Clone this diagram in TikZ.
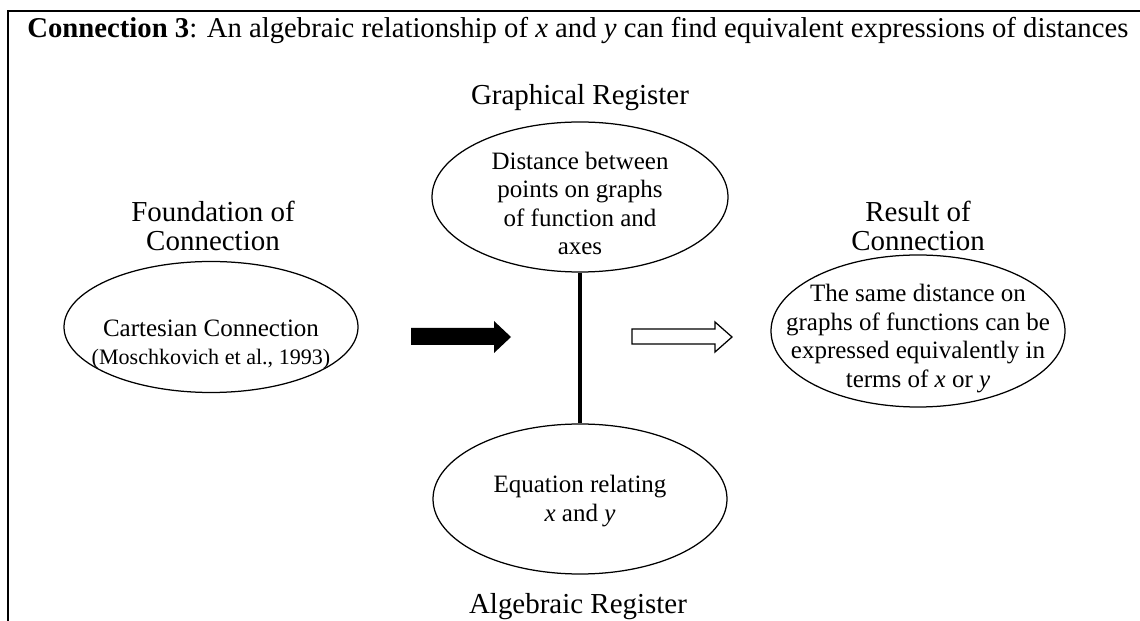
\documentclass[tikz,border=0pt]{standalone}
\usepackage{fontspec}
\setmainfont{Liberation Serif}
\usetikzlibrary{shapes.geometric}
\def\u{0.48pt}
\begin{document}
\begin{tikzpicture}[x=0.48pt,y=-0.48pt,
  lab/.style={anchor=base,inner sep=0pt,font=\fontsize{13.9}{16}\selectfont},
  txt/.style={anchor=base,inner sep=0pt,font=\fontsize{12}{14}\selectfont},
  cite/.style={anchor=base,inner sep=0pt,font=\fontsize{10.6}{12}\selectfont},
  ell/.style={draw,ellipse,inner sep=0pt,line width=0.6pt},
  frame/.style={line width=1pt},
  blockarrow/.style={line width=0.6pt}
]
\useasboundingbox (0,0) rectangle (1140,621);
% frame
\draw[frame] (8,640) -- (8,11) -- (1160,11);
% title
\node[lab,anchor=base west,font=\fontsize{13.78}{16}\selectfont] (title) at (27,38) {\textbf{Connection 3}: An algebraic relationship of \textit{x} and \textit{y} can find equivalent expressions of distances};
% ellipses
\node[ell,minimum width=294*\u,minimum height=131*\u] (found) at (211,327) {};
\node[ell,minimum width=296*\u,minimum height=150*\u] (graph) at (580,197) {};
\node[ell,minimum width=294*\u,minimum height=150*\u] (alg) at (580,499) {};
\node[ell,minimum width=294*\u,minimum height=152*\u] (res) at (918,331) {};
% register labels
\node[lab] (glab) at (580,105) {Graphical Register};
\node[lab] (alab) at (578,613) {Algebraic Register};
\node[lab] (f1) at (213,222) {Foundation of};
\node[lab] (f2) at (213,251) {Connection};
\node[lab] (r1) at (918,222) {Result of};
\node[lab] (r2) at (918,251) {Connection};
% texts in ellipses
\node[txt] (g1) at (580,170) {Distance between};
\node[txt] (g2) at (580,198) {points on graphs};
\node[txt] (g3) at (580,227) {of function and};
\node[txt] (g4) at (580,255) {axes};
\node[txt] (c1) at (211,337) {Cartesian Connection};
\node[cite] (c2) at (211,365) {(Moschkovich et al., 1993)};
\node[txt] (s1) at (918,302) {The same distance on};
\node[txt] (s2) at (918,331) {graphs of functions can be};
\node[txt] (s3) at (918,359) {expressed equivalently in};
\node[txt] (s4) at (918,388) {terms of \textit{x} or \textit{y}};
\node[txt] (e1) at (580,493) {Equation relating};
\node[txt] (e2) at (580,522) {\textit{x} and \textit{y}};
% vertical connector
\draw[line width=1.5pt] (graph.south) -- (alg.north);
% block arrows
\fill[black] (411,328) -- (494,328) -- (494,321) -- (511,337) -- (494,353) -- (494,345) -- (411,345) -- cycle;
\draw[blockarrow,fill=white] (632,329) -- (715,329) -- (715,322) -- (732,337) -- (715,352) -- (715,344) -- (632,344) -- cycle;
\end{tikzpicture}
\end{document}
